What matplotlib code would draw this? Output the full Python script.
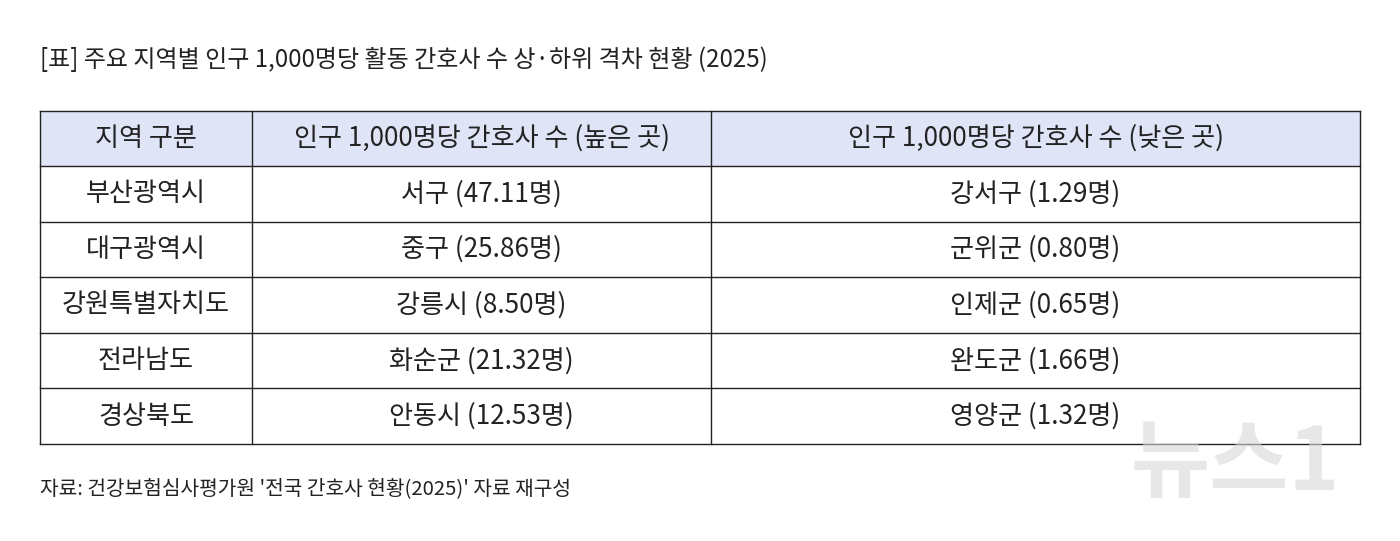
import matplotlib.pyplot as plt
from matplotlib.patches import Rectangle

plt.rcParams['font.family'] = ['Noto Sans CJK KR', 'DejaVu Sans']

title = "[표] 주요 지역별 인구 1,000명당 활동 간호사 수 상·하위 격차 현황 (2025)"
source = "자료: 건강보험심사평가원 '전국 간호사 현황(2025)' 자료 재구성"
headers = ["지역 구분", "인구 1,000명당 간호사 수 (높은 곳)", "인구 1,000명당 간호사 수 (낮은 곳)"]
regions = ["부산광역시", "대구광역시", "강원특별자치도", "전라남도", "경상북도"]
high_names = ["서구", "중구", "강릉시", "화순군", "안동시"]
high_vals = [47.11, 25.86, 8.50, 21.32, 12.53]
low_names = ["강서구", "군위군", "인제군", "완도군", "영양군"]
low_vals = [1.29, 0.80, 0.65, 1.66, 1.32]

W, H = 1400, 541
fig = plt.figure(figsize=(W / 100, H / 100), dpi=100)
ax = fig.add_axes([0, 0, 1, 1])
ax.set_xlim(0, W)
ax.set_ylim(H, 0)
ax.axis('off')

cols = [40, 252, 711, 1360]
top, head_bot, bottom = 111, 166, 444
n = len(regions)
rh = (bottom - head_bot) / n
row_y = [head_bot + i * rh for i in range(n + 1)]

ax.add_patch(Rectangle((cols[0], top), cols[-1] - cols[0], head_bot - top,
                       facecolor='#dfe4f6', edgecolor='none'))
for y in [top] + row_y:
    ax.plot([cols[0], cols[-1]], [y, y], color='#222222', lw=1.0)
for x in cols:
    ax.plot([x, x], [top, bottom], color='#222222', lw=1.0)

fs = 18.8
for j, h in enumerate(headers):
    ax.text((cols[j] + cols[j + 1]) / 2, (top + head_bot) / 2, h,
            ha='center', va='center', fontsize=fs, color='#222222')

for i in range(n):
    yc = row_y[i] + rh / 2
    cells = [regions[i],
             f"{high_names[i]} ({high_vals[i]:.2f}명)",
             f"{low_names[i]} ({low_vals[i]:.2f}명)"]
    for j, c in enumerate(cells):
        ax.text((cols[j] + cols[j + 1]) / 2, yc, c,
                ha='center', va='center', fontsize=fs, color='#222222')

ax.text(40, 60, title, ha='left', va='center', fontsize=17.3, color='#222222')
ax.text(40, 489, source, ha='left', va='center', fontsize=14.6, color='#222222')

# watermark
ax.text(1235, 465, "뉴스1", ha='center', va='center', fontsize=62, fontweight='bold',
        color='#d8d8d8', alpha=0.6, style='italic')

fig.savefig('out.png', dpi=100, facecolor='white')
